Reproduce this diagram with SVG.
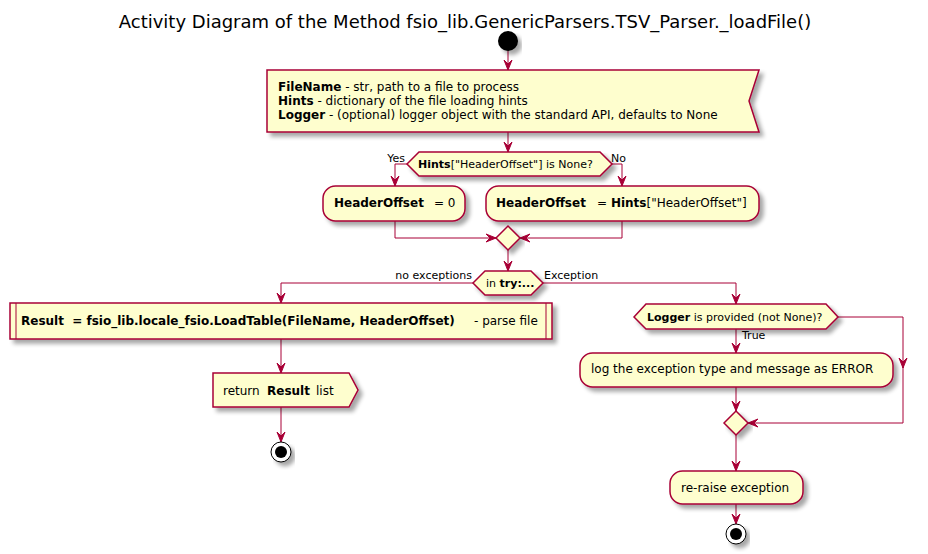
<svg xmlns="http://www.w3.org/2000/svg" width="928" height="554" viewBox="0 0 928 554">
<style>
text{font-family:"DejaVu Sans","Liberation Sans",sans-serif;fill:#000}
.t12{font-size:12px}
.t11{font-size:11px}
.title{font-size:18px}
.b{font-weight:bold}
.node{fill:#FEFECE;stroke:#A80036;stroke-width:1.5;filter:url(#sh)}
.edge{fill:none;stroke:#A80036;stroke-width:1;marker-end:url(#ah)}
.line{fill:none;stroke:#A80036;stroke-width:1}
</style>
<defs>
<filter id="sh" x="-10%" y="-10%" width="130%" height="150%">
<feGaussianBlur in="SourceAlpha" stdDeviation="2"/>
<feOffset dx="4" dy="4" result="o"/>
<feComponentTransfer><feFuncA type="linear" slope="0.35"/></feComponentTransfer>
<feMerge><feMergeNode/><feMergeNode in="SourceGraphic"/></feMerge>
</filter>
<marker id="ah" markerUnits="userSpaceOnUse" markerWidth="12" markerHeight="12" refX="10" refY="5" orient="auto" overflow="visible">
<path d="M0,1 L10,5 L0,9 L4,5 Z" fill="#A80036" stroke="#A80036" stroke-width="1"/>
</marker>
</defs>
<rect width="928" height="554" fill="#FFFFFF"/>
<text class="title" x="465" y="28" text-anchor="middle">Activity Diagram of the Method fsio_lib.GenericParsers.TSV_Parser._loadFile()</text>

<g id="connectors">
<path class="edge" d="M508,51 V70"/>
<path class="edge" d="M508,132 V152"/>
<path class="edge" d="M407,164 H395 V186"/>
<path class="edge" d="M612,164 H622 V186"/>
<path class="edge" d="M395,221 V238 H496"/>
<path class="edge" d="M622,221 V238 H520"/>
<path class="edge" d="M508,250 V271"/>
<path class="edge" d="M473,283 H281 V303"/>
<path class="edge" d="M281,339 V373"/>
<path class="edge" d="M281,407 V442"/>
<path class="edge" d="M543,283 H736 V304"/>
<path class="edge" d="M736,329 V353"/>
<path class="edge" d="M838,317 H903 V368"/>
<path class="edge" d="M903,367 V423 H748"/>
<path class="edge" d="M736,387 V411"/>
<path class="edge" d="M736,435 V471"/>
<path class="edge" d="M736,504 V524"/>
<text class="t11" x="405" y="162" text-anchor="end">Yes</text>
<text class="t11" x="611" y="162">No</text>
<text class="t11" x="472" y="279" text-anchor="end">no exceptions</text>
<text class="t11" x="544" y="279">Exception</text>
<text class="t11" x="742" y="339">True</text>
</g>

<g id="start">
<circle cx="508" cy="41" r="10" fill="#000" filter="url(#sh)"/>
</g>

<g id="input">
<polygon class="node" points="267,70 759,70 749,101 759,132 267,132"/>
<text class="t12" x="278" y="91" xml:space="preserve"><tspan class="b">FileName</tspan> - str, path to a file to process</text>
<text class="t12" x="278" y="105" xml:space="preserve"><tspan class="b">Hints</tspan> - dictionary of the file loading hints</text>
<text class="t12" x="278" y="119" xml:space="preserve"><tspan class="b">Logger</tspan> - (optional) logger object with the standard API, defaults to None</text>
</g>

<g id="decision1">
<polygon class="node" points="407,164 419,152 600,152 612,164 600,176 419,176"/>
<text class="t11" x="418" y="168"><tspan class="b">Hints</tspan>["HeaderOffset"] is None?</text>
</g>

<g id="offset0">
<rect class="node" x="323" y="186" width="142" height="35" rx="12.5" ry="12.5"/>
<text class="t12" x="334" y="207" xml:space="preserve"><tspan class="b">HeaderOffset</tspan><tspan x="434">= 0</tspan></text>
</g>

<g id="offsetHints">
<rect class="node" x="486" y="186" width="273" height="35" rx="12.5" ry="12.5"/>
<text class="t12" x="496" y="207" xml:space="preserve"><tspan class="b">HeaderOffset</tspan><tspan x="597">= </tspan><tspan class="b">Hints</tspan>["HeaderOffset"]</text>
</g>

<g id="merge1">
<polygon class="node" points="508,226 520,238 508,250 496,238"/>
</g>

<g id="try">
<polygon class="node" points="473,283 485,271 531,271 543,283 531,295 485,295"/>
<text class="t11" x="486" y="287" xml:space="preserve">in <tspan class="b">try:...</tspan></text>
</g>

<g id="loadTable">
<rect class="node" x="10" y="303" width="542" height="36"/>
<line class="line" x1="16" y1="303" x2="16" y2="339" stroke-width="1.5"/>
<line class="line" x1="546" y1="303" x2="546" y2="339" stroke-width="1.5"/>
<text class="t12" x="21" y="325" xml:space="preserve"><tspan class="b">Result  = fsio_lib.locale_fsio.LoadTable(FileName, HeaderOffset)</tspan><tspan x="474">- parse file</tspan></text>
</g>

<g id="return">
<polygon class="node" points="213,373 349,373 358,390 349,407 213,407"/>
<text class="t12" x="223" y="395" xml:space="preserve">return <tspan class="b" x="267">Result</tspan><tspan x="316">list</tspan></text>
</g>

<g id="stop1">
<circle cx="281" cy="452" r="10" fill="#FFFFFF" stroke="#000" stroke-width="1" filter="url(#sh)"/>
<circle cx="281" cy="452" r="6" fill="#000"/>
</g>

<g id="decision2">
<polygon class="node" points="634,317 646,304 826,304 838,317 826,329 646,329"/>
<text class="t11" x="647" y="321"><tspan class="b">Logger</tspan> is provided (not None)?</text>
</g>

<g id="logError">
<rect class="node" x="580" y="353" width="313" height="34" rx="12.5" ry="12.5"/>
<text class="t12" x="591" y="373">log the exception type and message as ERROR</text>
</g>

<g id="merge2">
<polygon class="node" points="736,411 748,423 736,435 724,423"/>
</g>

<g id="reraise">
<rect class="node" x="670" y="471" width="133" height="33" rx="12.5" ry="12.5"/>
<text class="t12" x="681" y="492">re-raise exception</text>
</g>

<g id="stop2">
<circle cx="736" cy="534" r="10" fill="#FFFFFF" stroke="#000" stroke-width="1" filter="url(#sh)"/>
<circle cx="736" cy="534" r="6" fill="#000"/>
</g>
</svg>
